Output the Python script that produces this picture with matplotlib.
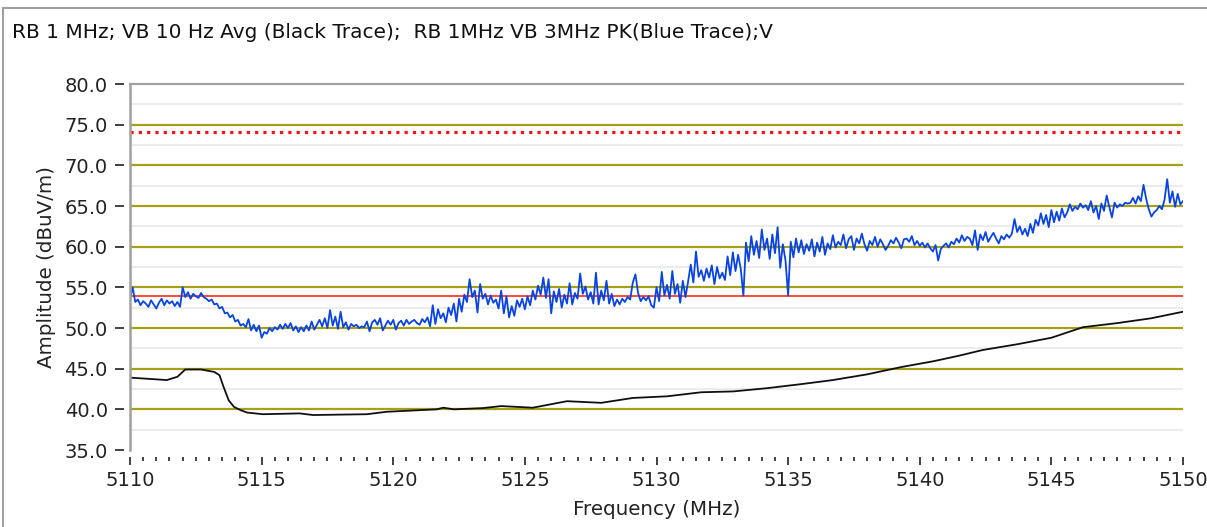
import numpy as np
import matplotlib
matplotlib.use("Agg")
import matplotlib.pyplot as plt
from matplotlib.patches import Rectangle
from matplotlib.ticker import MultipleLocator

# black trace (RB 1 MHz, VB 10 Hz avg)
black_f = [5110.0, 5111.4, 5111.8, 5112.1, 5112.7, 5113.2, 5113.4, 5113.55, 5113.75,
           5113.95, 5114.2, 5114.45, 5115.05, 5116.45, 5116.95, 5119.0, 5119.75, 5121.65,
           5121.9, 5122.3, 5123.4, 5124.1, 5125.3, 5126.6, 5127.9, 5129.1, 5130.4, 5131.7,
           5132.9, 5134.2, 5135.5, 5136.7, 5138.0, 5139.3, 5140.5, 5141.5, 5142.4, 5143.7,
           5145.0, 5146.2, 5147.5, 5148.8, 5150.0]
black_v = [43.9, 43.6, 44.0, 44.9, 44.9, 44.6, 44.2, 42.8, 41.1,
           40.3, 39.9, 39.6, 39.4, 39.5, 39.3, 39.4, 39.7, 40.0,
           40.2, 40.0, 40.15, 40.4, 40.2, 41.0, 40.8, 41.4, 41.6, 42.1,
           42.2, 42.6, 43.1, 43.6, 44.3, 45.2, 45.9, 46.6, 47.3, 48.0,
           48.8, 50.1, 50.6, 51.2, 52.0]

# blue trace (RB 1 MHz, VB 3 MHz peak), one value every 0.1 MHz
blue_start = 5110.0
blue_step = 0.1
blue_v = [
    53.6, 55.0, 53.2, 53.5, 52.8, 53.3, 53.0, 52.6, 53.4, 52.9,  # 5110
    52.4, 53.1, 53.6, 52.8, 53.4, 53.0, 53.3, 52.7, 53.2, 52.6,  # 5111
    55.0, 53.8, 54.4, 53.6, 54.2, 53.9, 53.7, 54.3, 53.8, 53.6,  # 5112
    53.3, 53.5, 52.9, 53.0, 52.4, 52.6, 51.8, 51.9, 51.3, 51.6,  # 5113
    50.8, 51.0, 50.3, 50.5, 50.1, 51.1, 49.7, 50.4, 49.6, 50.3,  # 5114
    48.8, 49.5, 49.3, 50.0, 49.6, 50.1, 49.8, 50.4, 49.9, 50.5,  # 5115
    50.0, 50.6, 49.7, 50.2, 49.5, 50.1, 49.6, 50.3, 49.7, 50.8,  # 5116
    49.8, 50.4, 51.0, 50.2, 51.2, 50.0, 52.2, 50.3, 51.4, 49.9,  # 5117
    52.0, 50.1, 50.7, 49.8, 50.5, 50.2, 50.4, 50.0, 50.2, 50.1,  # 5118
    50.8, 49.6, 50.7, 51.0, 50.4, 51.2, 49.7, 50.3, 50.9, 50.4,  # 5119
    51.0, 49.8, 50.6, 50.9, 50.3, 51.0, 50.5, 50.8, 51.0, 50.6,  # 5120
    50.4, 51.1, 50.7, 51.3, 50.2, 52.8, 50.5, 52.3, 51.2, 51.8,  # 5121
    50.7, 52.5, 51.6, 53.0, 50.8, 53.6, 52.0, 54.1, 53.2, 56.0,  # 5122
    53.8, 54.6, 51.9, 55.4, 53.6, 54.2, 52.9, 54.0, 53.1, 53.5,  # 5123
    52.4, 54.6, 51.8, 53.9, 51.3, 52.7, 51.5, 53.4, 52.6, 53.6,  # 5124
    52.3, 53.9, 52.8, 54.6, 53.5, 55.2, 54.1, 56.2, 53.7, 56.0,  # 5125
    51.8, 54.5, 53.2, 54.8, 52.5, 54.1, 53.0, 55.5, 52.9, 54.3,  # 5126
    53.6, 56.7, 54.2, 55.1, 53.5, 54.4, 53.0, 56.8, 52.9, 54.6,  # 5127
    53.4, 55.8, 53.0, 54.2, 52.7, 53.5, 52.9, 53.6, 53.2, 53.8,  # 5128
    53.5, 55.6, 56.6, 54.3, 53.3, 53.8, 53.4, 53.9, 52.8, 52.5,  # 5129
    55.0, 53.3, 56.9, 54.0, 55.3, 53.6, 57.0, 54.2, 55.4, 53.1,  # 5130
    55.8, 53.8, 55.7, 57.8, 55.6, 59.4, 56.3, 57.1, 55.8, 57.3,  # 5131
    56.2, 57.7, 55.4, 57.5, 56.1, 56.8, 55.9, 58.8, 56.5, 59.3,  # 5132
    57.0, 59.0, 57.3, 54.0, 60.5, 58.2, 61.3, 59.0, 60.7, 58.6,  # 5133
    62.1, 59.6, 61.0, 58.5, 61.5, 59.2, 62.4, 57.4, 60.3, 58.3,  # 5134
    54.0, 60.6, 58.7, 61.0, 59.3, 60.8, 59.1, 60.3, 59.5, 60.9,  # 5135
    58.8, 60.5, 59.4, 61.2, 59.0, 60.4, 59.7, 61.4, 59.9, 60.6,  # 5136
    60.2, 61.5, 59.8, 60.9, 61.3, 59.6, 61.0, 60.4, 61.6, 60.3,  # 5137
    59.5, 60.7, 60.2, 61.2, 60.0, 60.9, 60.3, 59.6, 60.1, 60.8,  # 5138
    60.4, 61.1, 60.5, 59.8, 60.9, 61.0, 60.6, 61.3, 60.2, 60.7,  # 5139
    60.1, 60.5, 59.9, 60.4, 59.8, 59.4, 60.2, 58.3, 59.7, 60.1,  # 5140
    60.4, 59.9, 60.6, 60.3, 61.0, 60.5, 61.4, 60.7, 61.2, 61.0,  # 5141
    60.2, 62.0, 59.6, 61.5, 60.8, 61.8, 60.6, 61.2, 61.7, 61.0,  # 5142
    60.4, 61.3, 60.9, 61.5, 61.1, 61.6, 63.4, 61.8, 62.5, 61.5,  # 5143
    62.2, 61.3, 62.8, 61.7, 63.3, 62.6, 64.1, 62.8, 63.9, 62.4,  # 5144
    64.5, 63.0, 64.3, 63.2, 64.7, 63.6, 64.2, 65.2, 64.4, 64.9,  # 5145
    64.6, 65.3, 64.8, 65.1, 64.5, 65.6, 64.2, 65.0, 63.4, 65.3,  # 5146
    64.4, 66.3, 64.9, 63.6, 65.4, 64.8, 65.2, 65.0, 65.4, 65.3,  # 5147
    65.4, 66.0, 65.3, 66.2, 65.6, 67.6, 65.9, 64.6, 63.7, 64.2,  # 5148
    64.5, 65.0, 64.6, 65.8, 68.3, 65.4, 66.8, 64.9, 66.5, 65.2,  # 5149
    65.6,                                                        # 5150
]

limit_avg = 53.9   # red solid
limit_pk = 74.1    # red dotted

title = "RB 1 MHz; VB 10 Hz Avg (Black Trace);  RB 1MHz VB 3MHz PK(Blue Trace);V"

blue_f = blue_start + blue_step * np.arange(len(blue_v))

plt.rcParams['font.family'] = ['DejaVu Sans']
fig = plt.figure(figsize=(12.07, 5.27), dpi=100)
W, H = 1207, 527

# outer panel frame (left and top edges show)
fig.patches.append(Rectangle((3 / W, -0.1), 1.2, 1.1 - 8 / H,
                             transform=fig.transFigure, fill=False,
                             edgecolor='#a0a0a0', lw=1.5))
fig.text(12 / W, 1 - 32 / H, title, fontsize=14.5, ha='left', va='center', color='#111111')

ax = fig.add_axes([130 / W, 1 - 450 / H, (1183 - 130) / W, (450 - 84) / H])

for y in np.arange(37.5, 80, 5):
    ax.axhline(y, color='#ececec', lw=1.5, zorder=1)
for y in np.arange(40, 80, 5):
    ax.axhline(y, color='#a4a018', lw=1.6, zorder=1)

ax.axhline(limit_pk, color='#ff1010', lw=2.3, linestyle=(0, (1, 1.6)), zorder=3)
ax.axhline(limit_avg, color='#ff3a2a', lw=1.3, zorder=3)
ax.plot(blue_f, blue_v, color='#0a44e0', lw=1.3, zorder=4)
ax.plot(black_f, black_v, color='#101010', lw=1.3, zorder=5)

ax.set_xlim(5110, 5150)
ax.set_ylim(35, 80)

for s in ('right', 'bottom', 'left'):
    ax.spines[s].set_visible(False)
ax.spines['top'].set_color('#a0a0a0')
ax.spines['top'].set_linewidth(1.6)
ax.axvline(5110, color='#a0a0a0', lw=1.8, zorder=6, clip_on=False)

ax.spines['left'].set_position(('outward', 4))
ax.spines['bottom'].set_position(('outward', 5))

ax.yaxis.set_major_locator(MultipleLocator(5))
ax.xaxis.set_major_locator(MultipleLocator(5))
ax.xaxis.set_minor_locator(MultipleLocator(0.5))
ax.yaxis.set_major_formatter(matplotlib.ticker.FormatStrFormatter('%.1f'))
ax.xaxis.set_major_formatter(matplotlib.ticker.FormatStrFormatter('%d'))

ax.tick_params(axis='y', which='major', length=6.5, width=1.3, color='#333333',
               pad=5.5, labelsize=14, labelcolor='#222222')
ax.tick_params(axis='x', which='major', length=6, width=1.3, color='#333333',
               pad=4, labelsize=14, labelcolor='#222222')
ax.tick_params(axis='x', which='minor', length=3.2, width=1.3, color='#333333')

ax.set_xlabel("Frequency (MHz)", fontsize=14.3, color='#222222', labelpad=7)
ax.set_ylabel("Amplitude (dBuV/m)", fontsize=14.3, color='#222222', labelpad=6)

fig.savefig("out.png", dpi=100)
